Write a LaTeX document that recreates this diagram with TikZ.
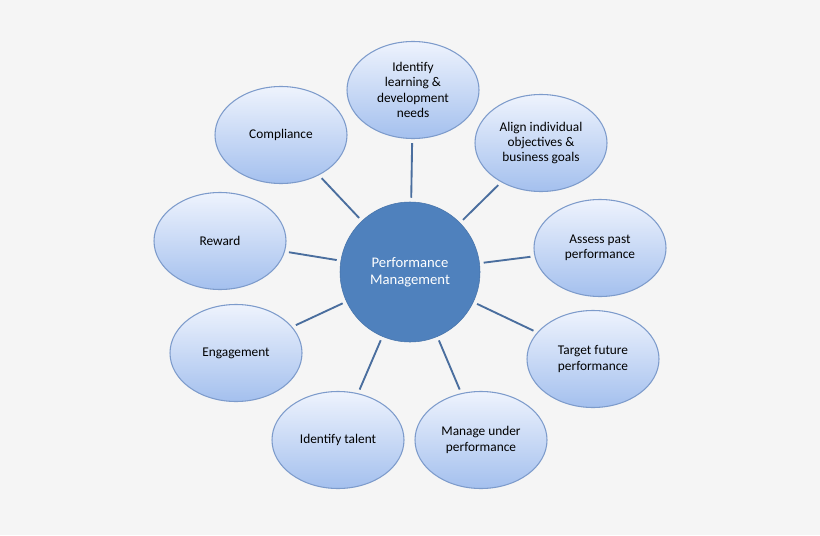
\documentclass[tikz,border=0pt]{standalone}
\usepackage{fontspec}
\setmainfont{Carlito}
\usetikzlibrary{shapes.geometric}
\definecolor{bgc}{HTML}{F5F5F5}
\definecolor{hubc}{HTML}{4F81BD}
\definecolor{rimc}{HTML}{7D9BCB}
\definecolor{topc}{HTML}{EEF3FD}
\definecolor{botc}{HTML}{A4C0EE}
\definecolor{linec}{HTML}{4A6E9E}

\begin{document}
\begin{tikzpicture}[x=0.75pt, y=-0.75pt,
    spoke/.style={ellipse, draw=rimc, line width=0.8pt, top color=topc, bottom color=botc,
        minimum width=132pt*0.75, minimum height=97pt*0.75, align=center, inner sep=1pt,
        font=\fontsize{10}{11.5}\selectfont},
    hub/.style={circle, fill=hubc, draw=hubc!90!black, minimum size=140pt*0.75, align=center,
        text=white, font=\fontsize{11}{13}\selectfont},
    link/.style={draw=linec, line width=1.4pt, shorten <=3pt, shorten >=3pt}]

    \fill[bgc] (0,0) rectangle (820,535);

    % Hub
    \node at (410, 272) [hub] (pm) {Performance\\Management};

    % Spokes
    \node at (413, 90) [spoke] (learn) {Identify\\learning \&\\development\\needs};
    \node at (541, 143) [spoke] (align) {Align individual\\objectives \&\\business goals};
    \node at (600, 248) [spoke] (assess) {Assess past\\performance};
    \node at (593, 359) [spoke] (target) {Target future\\performance};
    \node at (481, 440) [spoke] (manage) {Manage under\\performance};
    \node at (338, 440) [spoke] (talent) {Identify talent};
    \node at (236, 353) [spoke] (engage) {Engagement};
    \node at (220, 241) [spoke] (reward) {Reward};
    \node at (281, 135) [spoke] (comply) {Compliance};

    \foreach \s in {learn, align, assess, target, manage, talent, engage, reward, comply}
        \draw[link] (pm) -- (\s);

\end{tikzpicture}
\end{document}
